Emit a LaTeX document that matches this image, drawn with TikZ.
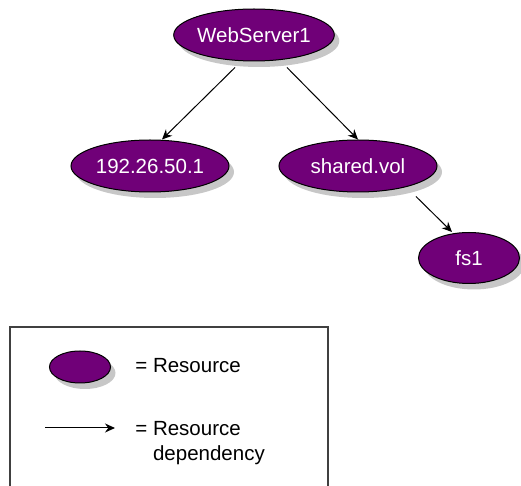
\documentclass[tikz,border=0pt]{standalone}
\usepackage{fontspec}
\setmainfont{Liberation Sans}
\usepackage{tikz}
\usetikzlibrary{trees,shapes.geometric,shadows,arrows.meta}
\definecolor{respurple}{RGB}{112,0,120}

\begin{document}
\begin{tikzpicture}[
  x=0.5pt, y=-0.5pt,
  level distance=65.5pt,
  level 1/.style={sibling distance=104pt},
  level 2/.style={sibling distance=111pt, level distance=46pt},
  edge from parent/.style={draw=none},
  >={Stealth[length=5pt,width=4.5pt]},
  every node/.style={font=\fontsize{10.25}{12.5}\selectfont},
  resource/.style={ellipse, draw=black, line width=0.5pt, fill=respurple, text=white,
    inner sep=0pt, minimum width=79pt, minimum height=26pt,
    drop shadow={shadow xshift=2.5pt, shadow yshift=-3pt, fill=black!22, opacity=1}},
  dep/.style={->, line width=0.5pt}
]
\useasboundingbox (0,0) rectangle (521,486);
\node[resource] (ws) at (254,35) {WebServer1}
  child { node[resource] (ip) {192.26.50.1} }
  child { node[resource] (sv) {shared.vol}
    child[missing]
    child { node[resource, minimum width=50.5pt, minimum height=25.5pt] (fs) {fs1} }
  };
\draw[dep] ([xshift=-9.5pt,yshift=-3pt]ws.south) -- ([xshift=6pt]ip.north);
\draw[dep] ([xshift=16.5pt,yshift=-3pt]ws.south) -- (sv.north);
\draw[dep] ([xshift=29pt,yshift=-2pt]sv.south) -- ([xshift=-8.5pt]fs.north);

\draw[line width=0.75pt, black!75] (10,486) -- (10,327) -- (328,327) -- (328,486);
\node[resource, minimum width=30.5pt, minimum height=16pt] (lres) at (80,367) {};
\node[anchor=west, inner sep=0pt] (lrestext) at (135,366) {= Resource};
\coordinate (ldepa) at (45,428);
\coordinate (ldepb) at (115,428);
\draw[dep] (ldepa) -- (ldepb);
\node[anchor=north west, inner sep=0pt, align=left] (ldeptext) at (135,421) {= Resource\\\hphantom{= }dependency};
\end{tikzpicture}
\end{document}
